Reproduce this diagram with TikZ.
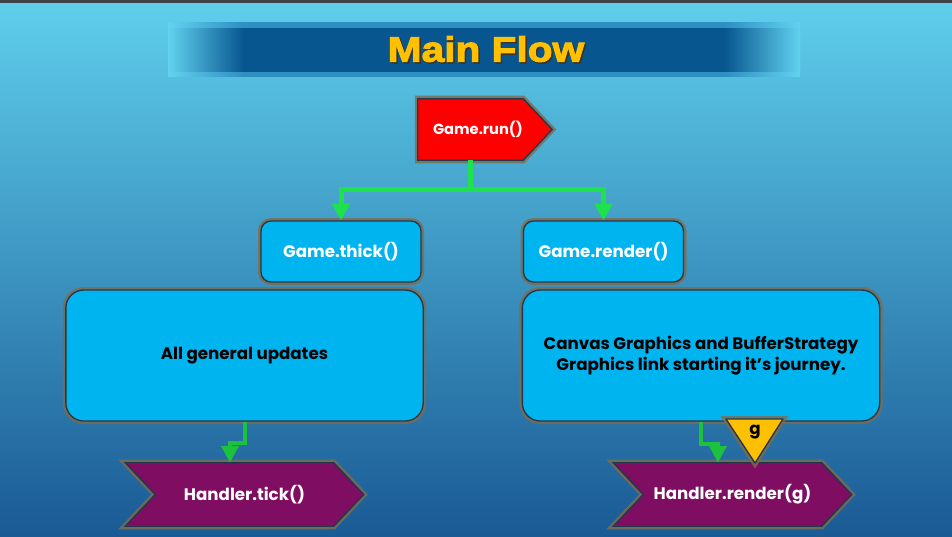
\documentclass[tikz,border=0pt]{standalone}
\usepackage{fontspec}
\newfontfamily\gothic{Poppins}
\newfontfamily\headfont[FakeBold=3,FakeStretch=1.15]{Liberation Sans Bold}
\usetikzlibrary{arrows.meta}
\definecolor{bgtop}{HTML}{5FCFEC}
\definecolor{bgmid}{HTML}{3FA3CD}
\definecolor{bgbot}{HTML}{1A5A95}
\definecolor{topbar}{HTML}{3E4448}
\definecolor{bannerlight}{HTML}{62D2EF}
\definecolor{bannerrimc}{HTML}{2E8FC2}
\definecolor{bannerdark}{HTML}{07568F}
\definecolor{titlegold}{HTML}{FFC000}
\definecolor{titleshadow}{HTML}{3A3420}
\definecolor{runred}{HTML}{FF0000}
\definecolor{callblue}{HTML}{00B4F0}
\definecolor{handlerplum}{HTML}{7F0D62}
\definecolor{gyellow}{HTML}{FFC000}
\definecolor{edgec}{HTML}{22384C}
\definecolor{glowc}{HTML}{806B4E}
\definecolor{flowgreen}{HTML}{1EE24C}
\definecolor{flowdark}{HTML}{1CC23E}
\pgfdeclarehorizontalshading{bannerband}{100bp}{color(0bp)=(bannerlight); color(25bp)=(bannerlight); color(31bp)=(bannerdark); color(69bp)=(bannerdark); color(75bp)=(bannerlight); color(100bp)=(bannerlight)}
\pgfdeclarehorizontalshading{bannerrim}{100bp}{color(0bp)=(bannerlight); color(25bp)=(bannerlight); color(31bp)=(bannerrimc); color(69bp)=(bannerrimc); color(75bp)=(bannerlight); color(100bp)=(bannerlight)}
\pgfdeclarelayer{shapes}
\pgfsetlayers{shapes,main}

\begin{document}
\begin{tikzpicture}[x=0.75pt,y=-0.75pt,
  glow/.style={preaction={draw=glowc,line width=4.5pt,opacity=.8}},
  headline/.style={font=\headfont\fontsize{26.5}{31}\selectfont,text=titlegold,inner sep=0pt},
  runlabel/.style={rectangle,inner sep=0pt,minimum width=63pt,minimum height=45.75pt,text=white,font=\gothic\bfseries\fontsize{11}{13}\selectfont},
  runshape/.style={fill=runred,draw=edgec,line width=1pt,glow},
  callbox/.style={rectangle,rounded corners=7.5pt,fill=callblue,draw=edgec,line width=1pt,glow,minimum width=120pt,minimum height=45.75pt,text=white,font=\gothic\bfseries\fontsize{12.5}{15}\selectfont},
  notebox/.style={rectangle,rounded corners=13.5pt,fill=callblue,draw=edgec,line width=1pt,glow,minimum width=268pt,minimum height=98.25pt,align=center,text=black,font=\gothic\bfseries\fontsize{12.5}{15.5}\selectfont},
  handlerlabel/.style={rectangle,inner sep=0pt,minimum width=133.5pt,minimum height=47.25pt,text=white,font=\gothic\bfseries\fontsize{12.5}{15}\selectfont},
  handlershape/.style={fill=handlerplum,draw=edgec,line width=1pt,glow},
  gtri/.style={fill=gyellow,draw=edgec,line width=1pt,line join=round,glow},
  glabel/.style={inner sep=0pt,text=black,font=\gothic\bfseries\fontsize{12.5}{15}\selectfont},
  flow/.style={draw=flowgreen,line width=3.75pt,-{Triangle[width=13pt,length=12.5pt]}},
  flowlow/.style={draw=flowdark,line width=3pt,-{Triangle[width=12.5pt,length=12.5pt]}}]
\useasboundingbox (0,0) rectangle (952,536);

% titles and boxes
\node[headline,text=titleshadow] (titleshade) at (487.5,50.5) {Main Flow};
\node[headline] (title) at (486,49) {Main Flow};
\node[runlabel] (run) at (478,129.5) {Game.run()};
\node[callbox] (thick) at (341,251.5) {Game.thick()};
\node[callbox] (render) at (603.5,251.5) {Game.render()};
\node[notebox] (updates) at (244.5,355.5) {All general updates};
\node[notebox] (canvas) at (701,355.5) {Canvas Graphics and BufferStrategy\\Graphics link starting it’s journey.};
\node[handlerlabel] (tick) at (244.5,494.5) {Handler.tick()};
\node[handlerlabel] (rendg) at (732.5,494.5) {Handler.render(g)};

% the g parameter
\draw[gtri] (726,419) -- (783,419) -- (755,463) -- cycle;
\node[glabel] (g) at (755,432) {g};

% flow lines
\coordinate (fork) at ([xshift=-6pt,yshift=-21.75pt]run.south);
\draw[flow] ([xshift=-6pt]run.south) -- (fork) -| (thick.north);
\draw[flow] (fork) -| (render.north);
\draw[flowlow] (updates.south) -- ++(0,21) -| ([xshift=-10.9pt]tick.north);
\draw[flowlow] (canvas.south) -- ++(0,22) -| ([xshift=-10.9pt]rendg.north);

\begin{pgfonlayer}{shapes}
\shade[top color=bgtop,middle color=bgmid,bottom color=bgbot] (0,0) rectangle (952,536);
\fill[topbar] (0,0) rectangle (952,3);
\shade[shading=bannerrim] (168,22) rectangle (800,76);
\shade[shading=bannerband] (168,28) rectangle (800,71);
\draw[runshape] ([xshift=-11.25pt]run.north west) -- (run.north east) -- ([xshift=21.75pt]run.east)
   -- (run.south east) -- ([xshift=-11.25pt]run.south west) -- cycle;
\draw[handlershape] ([xshift=-22.5pt]tick.north west) -- (tick.north east) -- ([xshift=22.5pt]tick.east)
   -- (tick.south east) -- ([xshift=-22.5pt]tick.south west) -- (tick.west) -- cycle;
\draw[handlershape] ([xshift=-22.5pt]rendg.north west) -- (rendg.north east) -- ([xshift=22.5pt]rendg.east)
   -- (rendg.south east) -- ([xshift=-22.5pt]rendg.south west) -- (rendg.west) -- cycle;
\end{pgfonlayer}
\end{tikzpicture}
\end{document}
